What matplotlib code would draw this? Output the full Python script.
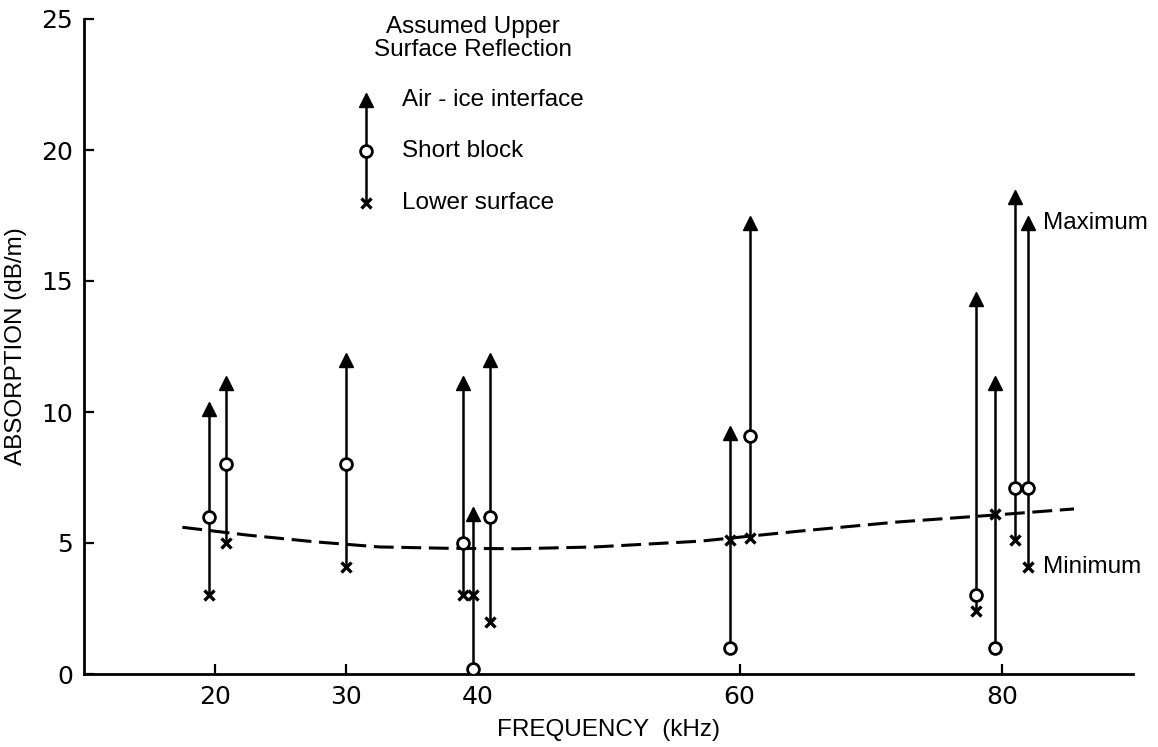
import matplotlib
matplotlib.use("Agg")
import matplotlib.pyplot as plt

# frequency (kHz) of each measurement
freq = [19.5, 20.8, 30.0, 38.9, 39.7, 41.0, 59.3, 60.8, 78.0, 79.5, 81.0, 82.0]
# assumed upper surface reflection: air-ice interface (maximum)
air_ice = [10.1, 11.1, 12.0, 11.1, 6.1, 12.0, 9.2, 17.2, 14.3, 11.1, 18.2, 17.2]
# short block
short_block = [6.0, 8.0, 8.0, 5.0, 0.2, 6.0, 1.0, 9.1, 3.0, 1.0, 7.1, 7.1]
# lower surface (minimum)
lower_surface = [3.0, 5.0, 4.1, 3.0, 3.0, 2.0, 5.1, 5.2, 2.4, 6.1, 5.1, 4.1]

# dashed trend curve
trend_freq = [17.5, 22.5, 27.5, 32.5, 37.5, 43.0, 49.0, 57.0, 64.5, 72.0, 79.5, 85.5]
trend_abs = [5.6, 5.3, 5.05, 4.85, 4.8, 4.78, 4.85, 5.07, 5.45, 5.8, 6.07, 6.3]

xticks = [20, 30, 40, 60, 80]
yticks = [0, 5, 10, 15, 20, 25]

text_font = "Liberation Sans"
tick_font = "DejaVu Sans"

fig = plt.figure(figsize=(11.58, 7.47), dpi=100)
ax = fig.add_axes([84 / 1158, 73 / 747, 1049 / 1158, 655 / 747])

# vertical ranges
for f, a, s, l in zip(freq, air_ice, short_block, lower_surface):
    lo = min(a, s, l)
    hi = max(a, s, l)
    ax.plot([f, f], [lo, hi], color="black", lw=1.8, zorder=2)

ax.plot(freq, air_ice, linestyle="none", marker="^", ms=10, color="black", zorder=3)
ax.plot(freq, short_block, linestyle="none", marker="o", ms=8.5, mfc="white",
        mec="black", mew=2.0, zorder=4)
ax.plot(freq, lower_surface, linestyle="none", marker="x", ms=6.5, mew=2.4,
        color="black", zorder=4)

ax.plot(trend_freq, trend_abs, color="black", lw=2.2, dashes=(6.5, 2.5), zorder=1)

# key drawn by hand, like the original figure
kx = 0.2688
ax.plot([kx, kx], [0.719, 0.876], transform=ax.transAxes, color="black", lw=1.8)
ax.plot([kx], [0.876], transform=ax.transAxes, marker="^", ms=10, color="black")
ax.plot([kx], [0.798], transform=ax.transAxes, marker="o", ms=8.5, mfc="white",
        mec="black", mew=2.0)
ax.plot([kx], [0.719], transform=ax.transAxes, marker="x", ms=6.5, mew=2.4, color="black")
ax.text(0.371, 0.988, "Assumed Upper", transform=ax.transAxes, ha="center",
        va="center", fontsize=17.5, family=text_font)
ax.text(0.371, 0.953, "Surface Reflection", transform=ax.transAxes, ha="center",
        va="center", fontsize=17.5, family=text_font)
for y, lab in zip([0.876, 0.798, 0.719], ["Air - ice interface", "Short block", "Lower surface"]):
    ax.text(0.303, y, lab, transform=ax.transAxes, ha="left", va="center",
            fontsize=17.5, family=text_font)

ax.annotate("Maximum", (freq[-1], air_ice[-1]), xytext=(11, 0), textcoords="offset points",
            ha="left", va="center", fontsize=17.5, family=text_font)
ax.annotate("Minimum", (freq[-1], lower_surface[-1]), xytext=(11, 0), textcoords="offset points",
            ha="left", va="center", fontsize=17.5, family=text_font)

ax.set_xlim(10, 90)
ax.set_ylim(0, 25)
ax.set_xticks(xticks)
ax.set_yticks(yticks)
ax.tick_params(direction="in", length=7, width=1.6, pad=8, labelsize=18)
for lab in ax.get_xticklabels() + ax.get_yticklabels():
    lab.set_family(tick_font)

for side in ["top", "right"]:
    ax.spines[side].set_visible(False)
for side in ["left", "bottom"]:
    ax.spines[side].set_linewidth(2.0)

ax.set_xlabel("FREQUENCY  (kHz)", fontsize=17.5, family=text_font, labelpad=7)
ax.set_ylabel("ABSORPTION (dB/m)", fontsize=17.5, family=text_font, labelpad=10)

fig.savefig("out.png", dpi=100)
